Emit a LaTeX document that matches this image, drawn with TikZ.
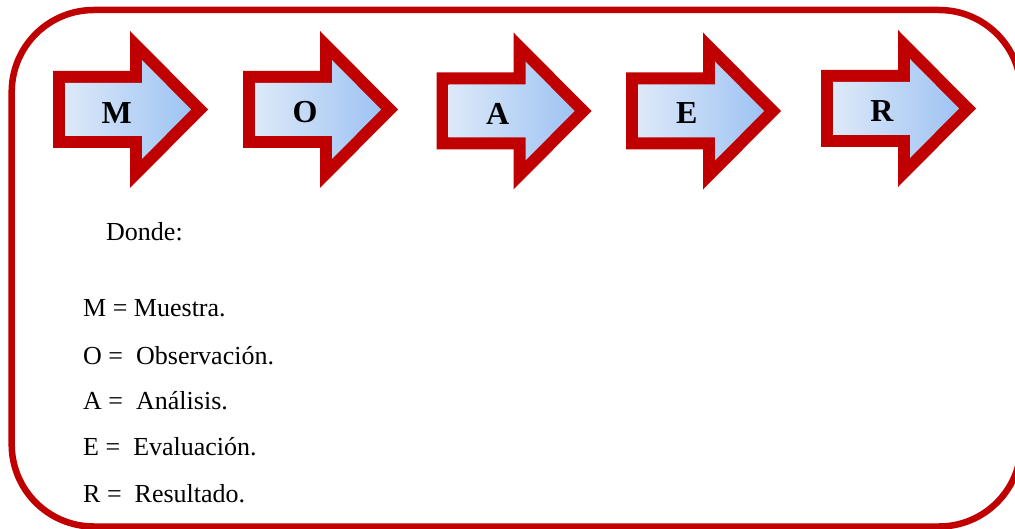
\documentclass[tikz,border=0pt]{standalone}
\usepackage{fontspec}
\setmainfont{Liberation Serif}
\definecolor{arrowred}{RGB}{192,0,0}
\definecolor{shadeL}{RGB}{221,233,249}
\definecolor{shadeR}{RGB}{158,195,243}
\newcommand{\bigarrow}[2]{%
  \begin{scope}[shift={(#1,#2)}]
    \fill[arrowred] (0,71)--(77,71)--(77,31)--(155,109.5)--(77,188)--(77,148)--(0,148)--cycle;
    \shade[left color=shadeL,right color=shadeR] (12,83)--(89,83)--(89,60)--(138,109.5)--(89,159)--(89,136)--(12,136)--cycle;
  \end{scope}}
\begin{document}
\begin{tikzpicture}[x=1pt,y=-1pt,
  letter/.style={inner sep=0pt,anchor=base,font=\fontsize{32}{36}\selectfont\bfseries},
  legend/.style={inner sep=0pt,anchor=base west,font=\fontsize{26}{30}\selectfont}]
\useasboundingbox (0,0) rectangle (1015,529);
\draw[arrowred,line width=6.5pt,rounded corners=82pt] (11.7,10) rectangle (1021,526.5);
\bigarrow{53}{0}
\bigarrow{243}{0}
\bigarrow{436.5}{1.5}
\bigarrow{626}{1.5}
\bigarrow{821}{-1}
\node[letter] (m) at (116.7,123.3) {M};
\node[letter] (o) at (305,123) {O};
\node[letter] (a) at (497.6,124.5) {A};
\node[letter] (e) at (686.7,124) {E};
\node[letter] (r) at (882,121.7) {R};
\node[legend] (donde) at (106,241) {Donde:};
\node[legend] (lm) at (83,317) {M = Muestra.};
\node[legend] (lo) at (83,364) {O = \ Observación.};
\node[legend] (la) at (83,409) {A = \ Análisis.};
\node[legend] (le) at (83,455) {E = \ Evaluación.};
\node[legend] (lr) at (83,502) {R = \ Resultado.};
\end{tikzpicture}
\end{document}
